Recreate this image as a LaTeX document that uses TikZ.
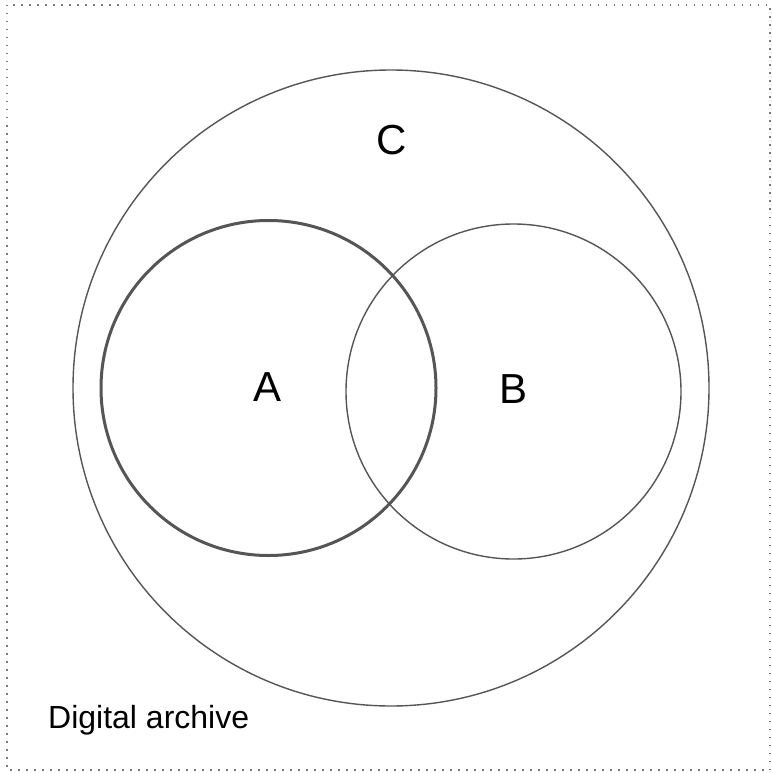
\documentclass[tikz,border=0pt]{standalone}
\usepackage{fontspec}
\setmainfont{Liberation Sans}
\definecolor{linegray}{HTML}{555555}
\definecolor{dotgray}{HTML}{777777}
\begin{document}
\begin{tikzpicture}[x=1pt,y=-1pt,
  setline/.style={draw=linegray,line width=1.4pt},
  thickset/.style={draw=linegray,line width=3pt},
  biglabel/.style={font=\fontsize{42}{42}\selectfont,inner sep=0pt},
  smalllabel/.style={font=\fontsize{32}{32}\selectfont,inner sep=0pt,anchor=west}]
\useasboundingbox (0,0) rectangle (771,773);
\draw[dotgray,line width=1.5pt,dash pattern=on 1.5pt off 6.5pt] (7,5) rectangle (770,770);
\node[setline,circle,minimum size=636pt,inner sep=0pt] (C) at (391,388) {};
\node[setline,circle,minimum size=335pt,inner sep=0pt] (B) at (513.5,391.5) {};
\node[thickset,circle,minimum size=335pt,inner sep=0pt] (A) at (268.5,388) {};
\node[biglabel] (lC) at (392,140) {C};
\node[biglabel] (lA) at (268,387) {A};
\node[biglabel] (lB) at (513,389) {B};
\node[smalllabel] (lD) at (48,720) {Digital archive};
\end{tikzpicture}
\end{document}
